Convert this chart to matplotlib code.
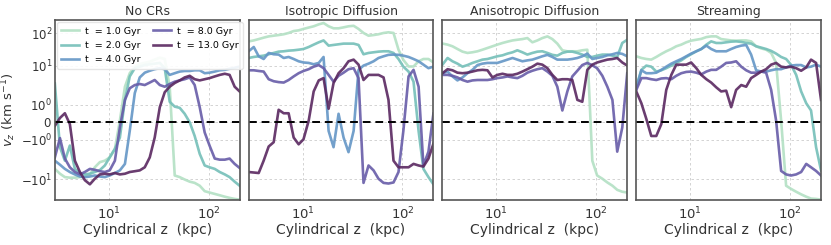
import numpy as np
import matplotlib
matplotlib.use('Agg')
import matplotlib.pyplot as plt
from matplotlib.ticker import FixedLocator, NullLocator

# shared cylindrical-z grid (kpc)
z = [2.88, 3.24, 3.63, 4.07, 4.57, 5.13, 5.75, 6.46, 7.24, 8.13, 9.12, 10.2,
     11.5, 12.9, 14.5, 16.2, 18.2, 20.4, 22.9, 25.7, 28.8, 32.4, 36.3, 40.7,
     45.7, 51.3, 57.5, 64.6, 72.4, 81.3, 91.2, 102, 115, 129, 145, 162, 182, 204]

times = ['1.0', '2.0', '4.0', '8.0', '13.0']
titles = ['No CRs', 'Isotropic Diffusion', 'Anisotropic Diffusion', 'Streaming']

# vz (km/s) for each run, one list per output time
nocr_t1 = [-5.5, -7.3, -8.9, -9.2, -9.2, -8.9, -8.6, -7.6, -5.0, -3.7, -3.4, -2.8, -1.7,
           0.1, 2.9, 6.4, 9.4, 11.2, 12.1, 13.2, 15.3, 17.6, 16, 2.9, -8.1, -8.9, -10.3,
           -12, -13.1, -16, -23.6, -26, -28.7, -31.6, -35, -38, -41, -43]
nocr_t2 = [3.5, -1.54, -3.4, -1.4, -5.5, -7.0, -7.6, -7.3, -6.6, -5.9, -4.5, -2.8, -1.7,
           -0.87, 1.34, 5.3, 8.6, 9.4, 10.4, 11, 11.5, 12.1, 8.6, 1.2, 0.9, 0.83, 0.49,
           0, -0.78, -2.27, -4.5, -5.0, -5.5, -6.6, -7.6, -8.9, -12, -16]
nocr_t4 = [-3.4, -4.3, -5.5, -6.6, -7.6, -8.6, -8.9, -8.6, -8.1, -8.6, -8.9, -8.1, -7.0,
           -6.0, -4.1, -0.49, 2.0, 5.0, 6.6, 7.4, 8.1, 8.6, 8.1, 5.8, 6.4, 7.05, 7.3,
           7.3, 7.6, 7.6, 6.4, 6.6, 7.05, 7.6, 7.8, 8.3, 8.8, 9.4]
nocr_t8 = [-2.8, -0.9, -3.0, -5.0, -6.6, -7.6, -6.6, -5.5, -5.8, -6.3, -6.6, -6.0, -3.4,
           -0.29, 1.34, 2.65, 3.2, 3.4, 3.2, 3.7, 4.3, 3.2, 2.9, 3.4, 3.9, 4.2, 4.5,
           5.0, 3.2, 0.87, -0.58, -1.4, -3.0, -3.2, -3.2, -3.0, -4.1, -5.2]
nocr_t13 = [-0.2, 0.25, 0.52, -0.1, -3.4, -6.6, -10.8, -14.5, -9.8, -7.6, -7.3, -7.6, -7.0,
            -7.6, -7.3, -6.6, -6.3, -6.0, -5.0, -2.8, -0.87, 0.87, 2.1, 2.9, 3.6, 4.2,
            5.0, 5.5, 4.5, 4.2, 4.5, 4.8, 5.3, 5.8, 6.2, 5.8, 2.9, 2.2]

iso_t1 = [56, 60, 66, 73, 80, 84, 88, 93, 102, 117, 123, 136, 150, 164, 188, 207, 164,
          142, 142, 152, 164, 170, 136, 102, 84, 88, 93, 102, 107, 102, 31, 15, 9.5,
          9.5, 13.6, 16, 16, 12.5]
iso_t2 = [17.2, 18.5, 19.4, 20.3, 22.4, 24.6, 27, 27.7, 29, 29.7, 31, 32.6, 37.6, 44.5,
          52.5, 60, 41.4, 43.5, 45.6, 47.8, 47.8, 47.8, 43.5, 22.4, 24.6, 25.8, 27,
          27.7, 27.7, 24.6, 16, 9.4, 7.05, 3.9, -0.5, -5.5, -8.9, -14.5]
iso_t4 = [27.7, 37.6, 19.4, 16, 24.6, 22.4, 21.9, 17.2, 18.5, 16, 13.6, 12.5, 12.1, 11,
          12.1, 18.5, -0.49, -1.54, 0.49, -0.87, -2.06, -0.49, 7.8, 10, 11.5, 13.6,
          17.2, 19.4, 21.5, 21.9, 21.5, 20.3, 18.5, 16, 13.6, 10.7, 8.6, 9.4]
iso_t8 = [7.6, 7.6, 7.3, 7.05, 4.5, 4.0, 3.8, 3.7, 4.3, 5.3, 6.4, 7.3, 8.1, 9.4, 10.4,
          8.6, 5.8, 3.9, 5.5, 6.6, 8.1, 8.6, 4.8, -13.1, -4.5, -6.0, -9.8, -13.1, -13.7,
          -12.7, -6.6, -0.49, 5.3, 7.8, 2.9, -4.5, -2.0, 0.5]
iso_t13 = [-6.6, -6.8, -7.0, -3.4, -1.48, -1.15, 0.72, 0.52, 0.52, -0.87, -1.3, -0.97,
           0.1, 2.2, 4.2, 4.8, 0.78, 3.6, 6.4, 8.6, 13.6, 15.3, 10.7, 4.3, 5.8, 5.8, 5.8,
           5.0, 1.34, -3.4, -5.0, -5.0, -5.0, -4.1, -4.5, -4.8, -3.0, -1.26]

aniso_t1 = [48, 44.5, 39.5, 32.6, 27, 24.6, 25.8, 27.7, 31, 35, 39.5, 44.5, 50, 55, 60,
            63, 66, 71, 52.5, 60, 71, 80, 66, 47.8, 29.7, 27.7, 27.7, 27.7, 29.7, 31,
            -3.4, -8.1, -9.8, -12.7, -16, -21.5, -24.6, -26]
aniso_t2 = [10.7, 17.2, 13.6, 11.5, 9.4, 10.4, 12.1, 13.6, 15.3, 16, 17.6, 19.4, 20.8,
            23.5, 25.8, 29.7, 25.8, 21.9, 24.6, 27, 27.7, 24.6, 21.5, 20.3, 24.6, 27, 27,
            24.6, 21.9, 18.5, 18.5, 20.3, 21.9, 21.9, 20.3, 18.5, 50, 63]
aniso_t4 = [6.4, 7.05, 5.3, 4.2, 5.0, 6.4, 7.8, 10.4, 11.5, 12.1, 12.1, 12.1, 13.6, 15.3,
            17.2, 15.3, 13.6, 14.5, 15.3, 17.2, 19.4, 21.5, 18.5, 15.3, 15.3, 15.3, 16,
            17.2, 19.4, 23.5, 16, 17.2, 18.5, 20.8, 22.4, 24.6, 23, 19.4]
aniso_t8 = [5.8, 5.8, 5.5, 5.0, 4.3, 3.9, 4.2, 4.3, 4.3, 4.3, 4.5, 4.8, 5.0, 5.3, 5.0,
            4.8, 5.5, 6.6, 7.4, 8.1, 8.6, 7.05, 5.5, 2.9, 0.68, 2.2, 5.3, 7.4, 10.4, 12.1,
            10.2, 8.6, 5.5, 2.9, 1.34, -2.0, -0.3, 6.4]
aniso_t13 = [6.4, 8.1, 7.6, 6.6, 6.4, 6.6, 7.05, 7.6, 7.8, 7.6, 5.0, 5.8, 6.2, 5.8, 5.8,
             6.2, 7.05, 8.1, 9.4, 11.5, 10.7, 8.6, 5.8, 4.3, 4.5, 4.5, 4.3, 1.34, 1.2, 7.8,
             10.7, 12.5, 13.9, 15.3, 16, 17.2, 12.5, 10]

stream_t1 = [19.4, 17.2, 16, 15.3, 18.5, 22.9, 27.7, 32.6, 39.5, 44.5, 52.5, 59, 63, 67,
             76, 80, 80, 66, 63, 60, 59, 60, 60, 56, 39.5, 34, 31, 24.6, 12.1, 0.1, -16,
             -20, -24.6, -29.6, -35, -40, -41, -43]
stream_t2 = [2.9, 7.8, 10, 9.4, 7.05, 7.6, 8.6, 10, 12.1, 14.5, 18.5, 22.4, 27.7, 32.6,
             44.5, 56, 50, 50, 52.5, 55, 56, 54, 50, 47.8, 39.5, 36, 32.6, 28.5, 23.5,
             18.5, 16, 10.7, 5.8, 2.2, 1.1, 0.68, -1.54, -6.0]
stream_t4 = [2.65, 7.6, 6.4, 6.4, 6.6, 7.8, 9.4, 11.5, 13.6, 16, 19.4, 23.5, 27.7, 32.6,
             41.4, 32.6, 27.7, 27.7, 27.7, 32.6, 37.6, 41.4, 43.5, 21.9, 7.6, 7.05, 7.05,
             7.6, 8.1, 8.1, 9, 10, 10.4, 10.4, 9, 9.4, 10.7, 9.4]
stream_t8 = [2.4, 4.8, 4.8, 4.5, 4.3, 4.7, 4.8, 4.5, 5.5, 6.4, 6.9, 7.05, 6.6, 6.0, 7.05,
             7.8, 7.8, 9.4, 12.1, 12.5, 13.6, 9.4, 7.6, 6.6, 6.6, 7.05, 6.6, 2.4, 0.1,
             -6.2, -7.6, -8.1, -7.6, -6.6, -4.1, -5.0, -6.2, -8.1]
stream_t13 = [2.2, 1.1, 0.2, -0.78, -0.78, -0.1, 2.4, 5.8, 10.7, 10.7, 10.7, 12.5, 8.6,
              5.8, 4.5, 3.7, 2.8, 2.2, 2.3, 0.87, 2.4, 3.2, 2.9, 4.8, 5.8, 7.05, 8.1,
              10.7, 12.1, 9.4, 9, 9.4, 8.6, 7.4, 9, 15.3, 12.1, 1.34]

runs = [[nocr_t1, nocr_t2, nocr_t4, nocr_t8, nocr_t13],
        [iso_t1, iso_t2, iso_t4, iso_t8, iso_t13],
        [aniso_t1, aniso_t2, aniso_t4, aniso_t8, aniso_t13],
        [stream_t1, stream_t2, stream_t4, stream_t8, stream_t13]]

colors = ['#b3e0c4', '#74bfb8', '#6496c6', '#675ca8', '#5a2860']

# symmetric log-like axis: linear inside |v|<1, decades outside
K = 0.445
C = 0.824


def fwd(v):
    v = np.asarray(v, dtype=float)
    a = np.abs(v)
    t = np.where(a <= 1, K * a,
                 np.where(a <= 10, K + np.log10(np.clip(a, 1, None)),
                          K + 1 + C * np.log10(np.clip(a, 10, None) / 10)))
    return np.sign(v) * t


def inv(t):
    t = np.asarray(t, dtype=float)
    b = np.abs(t)
    with np.errstate(over='ignore'):
        a = np.where(b <= K, b / K,
                     np.where(b <= K + 1, 10 ** (np.clip(b, None, K + 1) - K),
                              10 * 10 ** ((b - K - 1) / C)))
    return np.sign(t) * a


plt.rcParams['font.family'] = 'DejaVu Sans'
fig, axes = plt.subplots(1, 4, figsize=(8.31, 2.45), dpi=100, sharey=True)
plt.subplots_adjust(left=0.066, right=0.988, top=0.918, bottom=0.184, wspace=0.049)

for i, ax in enumerate(axes):
    for j in range(5):
        ax.plot(z, runs[i][j], color=colors[j], lw=1.9, alpha=0.9,
                label='t  = %s Gyr' % times[j])
    ax.axhline(0, color='black', ls='--', lw=1.4, dashes=(4, 2.5))
    ax.set_xscale('log')
    ax.set_yscale('function', functions=(fwd, inv))
    ax.set_xlim(2.88, 204)
    ax.set_ylim(-44, 255)
    ax.xaxis.set_minor_locator(NullLocator())
    ax.yaxis.set_major_locator(FixedLocator([-10, -1, 0, 1, 10, 100]))
    ax.yaxis.set_minor_locator(NullLocator())
    ax.grid(True, color='#cccccc', ls='--', lw=0.6, dashes=(3, 3))
    ax.set_axisbelow(True)
    for s in ax.spines.values():
        s.set_color('#555555')
        s.set_linewidth(1.2)
    ax.tick_params(axis='x', length=0, labelsize=9.5, pad=4, colors='#333333')
    ax.tick_params(axis='y', length=0, labelsize=8.5, pad=2, colors='#333333')
    ax.set_title(titles[i], fontsize=9, color='#333333', pad=4)
    ax.set_xlabel('Cylindrical z  (kpc)', fontsize=10, color='#333333', labelpad=1)

axes[0].set_yticklabels(['$-10^1$', '$-10^0$', '$0$', '$10^0$', '$10^1$', '$10^2$'])
axes[0].set_ylabel('$v_z$ (km s$^{-1}$)', fontsize=9.5, color='#333333', labelpad=1)
axes[0].yaxis.set_label_coords(-0.2, 0.5)
axes[0].legend(ncol=2, loc='upper left', fontsize=6.8, frameon=True, framealpha=0.9,
               edgecolor='#e4e4e4', handlelength=1.9, columnspacing=1.3,
               borderaxespad=0.2, labelspacing=0.55, handletextpad=0.6, borderpad=0.5)

plt.savefig('out.png', dpi=100)
